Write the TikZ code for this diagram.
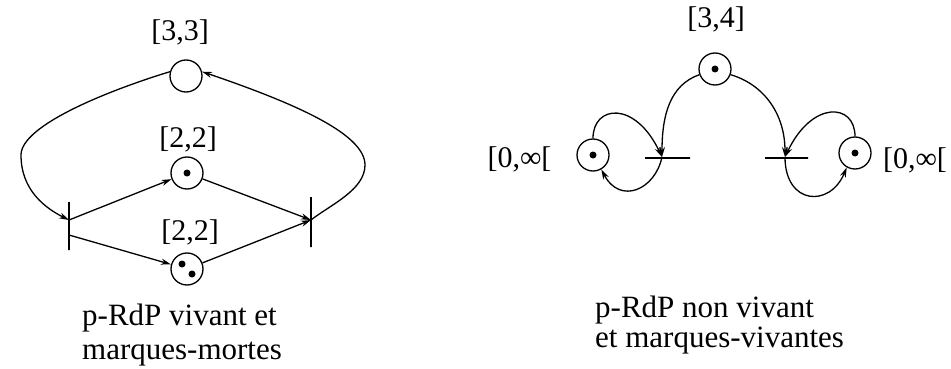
\documentclass[tikz,border=0pt]{standalone}
\usepackage{fontspec}
\setmainfont{Liberation Serif}
\usetikzlibrary{arrows.meta}
\begin{document}
\begin{tikzpicture}[x=1pt,y=-1pt,
  pnplace/.style={circle,draw,line width=1.3pt,minimum size=32pt,inner sep=0pt},
  pntrans/.style={draw,line width=1.3pt,inner sep=0pt},
  pnarc/.style={line width=1.3pt,-{Stealth[length=10pt,width=6pt]}},
  pntok/.style={fill,circle,inner sep=0pt,minimum size=7pt},
  pnlab/.style={font=\fontsize{30}{34}\selectfont,anchor=base,inner sep=0pt},
  pncap/.style={font=\fontsize{31}{35}\selectfont,anchor=base west,inner sep=0pt}]
\useasboundingbox[fill=white] (0,0) rectangle (951,369);

% ---------- left net ----------
\node[pnplace] (top) at (186,76) {};
\node[pnplace] (mid) at (187,173) {};
\node[pnplace] (low) at (187,269) {};
\node[pntok] (tokm) at (187,173) {};
\node[pntok] (tokl1) at (182,264) {};
\node[pntok] (tokl2) at (192,274) {};
\node[pntrans,minimum width=0pt,minimum height=48pt] (t1) at (69,226) {};
\node[pntrans,minimum width=0pt,minimum height=50pt] (t2) at (311,222) {};
\coordinate (j1) at (69,220);
\coordinate (j1b) at (69,235);
\coordinate (j2) at (311,220);

\node[pnlab] (l33) at (180,40.5) {[3,3]};
\node[pnlab] (l22a) at (188,147) {[2,2]};
\node[pnlab] (l22b) at (190,240) {[2,2]};

\draw[pnarc] (j1) -- (mid);
\draw[pnarc] (j1b) -- (low);
\draw[pnarc] (mid) -- (j2);
\draw[pnarc] (low) -- (j2);
\draw[pnarc] (top.165) .. controls (110,90) and (21,125) .. (21,155)
                     .. controls (21,190) and (45,208) .. (j1);
\draw[pnarc] (j2) .. controls (330,205) and (365,190) .. (365,165)
                .. controls (365,135) and (300,105) .. (top.15);

\node[pncap] (c1) at (82,325) {p-RdP vivant et};
\node[pncap] (c2) at (82,359) {marques-mortes};

% ---------- right net ----------
\node[pnplace] (pp) at (715,69) {};
\node[pnplace] (lp) at (593,155) {};
\node[pnplace] (rp) at (855,153) {};
\node[pntok] (tokp) at (715,69) {};
\node[pntok] (toklp) at (593,155) {};
\node[pntok] (tokrp) at (855,153) {};
\node[pntrans,minimum width=45pt,minimum height=0pt] (tl) at (667.5,158) {};
\node[pntrans,minimum width=43pt,minimum height=0pt] (tr) at (786.5,158) {};
\coordinate (jl) at (662,157);
\coordinate (jr) at (785,157);

\node[pnlab] (l34) at (716,28) {[3,4]};
\node[pnlab] (linfl) at (519.5,167) {[0,∞[};
\node[pnlab] (linfr) at (915,168) {[0,∞[};

\draw[pnarc] (pp.200) .. controls (670,85) and (662,115) .. (jl);
\draw[pnarc] (pp.-20) .. controls (765,85) and (785,115) .. (jr);
\draw[pnarc] (lp.north) .. controls (593,105) and (635,100) .. (jl);
\draw[pnarc] (jl) .. controls (655,190) and (620,205) .. (lp.-60);
\draw[pnarc] (rp.north) .. controls (855,103) and (812,100) .. (jr);
\draw[pnarc] (jr) .. controls (785,205) and (830,208) .. (rp.-120);

\node[pncap] (c3) at (595,317) {p-RdP non vivant};
\node[pncap] (c4) at (595,347) {et marques-vivantes};
\end{tikzpicture}
\end{document}
